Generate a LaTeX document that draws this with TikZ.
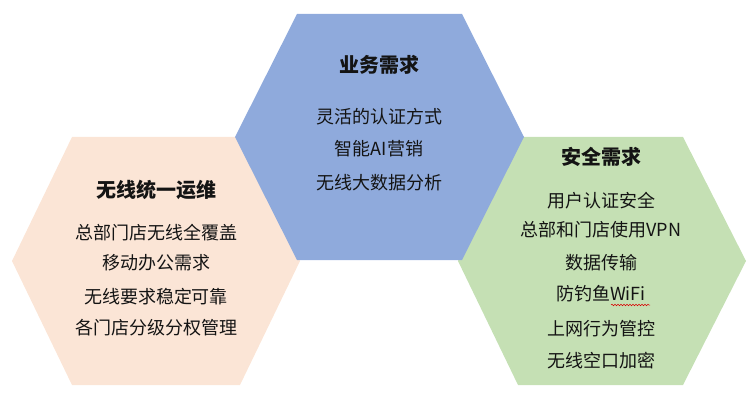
\documentclass[tikz,border=0pt]{standalone}
\usepackage{fontspec}
\setmainfont{Noto Sans CJK SC}
\usetikzlibrary{decorations.pathmorphing}
\definecolor{opspeach}{HTML}{FBE5D6}
\definecolor{secgreen}{HTML}{C5E0B4}
\definecolor{bizblue}{HTML}{8FAADC}
\definecolor{hextext}{HTML}{141414}
\tikzset{
  hexhead/.style={text=hextext,font=\fontsize{20}{23}\selectfont\bfseries},
  hexitem/.style={text=hextext,font=\fontsize{18}{21}\selectfont},
}

\begin{document}
\begin{tikzpicture}[x=1pt,y=-1pt]
\useasboundingbox (0,0) rectangle (756,404);
% Wireless operations
\fill[opspeach] (12,261) -- (72,137) -- (240,137) -- (300,261) -- (240,385) -- (72,385) -- cycle;
\node[hexhead] (opsT) at (156,190) {无线统一运维};
\node[hexitem] (ops1) at (156,233) {总部门店无线全覆盖};
\node[hexitem] (ops2) at (156,263) {移动办公需求};
\node[hexitem] (ops3) at (156,297) {无线要求稳定可靠};
\node[hexitem] (ops4) at (156,328) {各门店分级分权管理};
% Security
\fill[secgreen] (458,261) -- (518,137) -- (683,137) -- (746,261) -- (683,385) -- (518,385) -- cycle;
\node[hexhead] (secT) at (601,157) {安全需求};
\node[hexitem] (sec1) at (601,201) {用户认证安全};
\node[hexitem] (sec2) at (601,230) {总部和门店使用VPN};
\node[hexitem] (sec3) at (601,263) {数据传输};
\node[hexitem] (sec4) at (601,294) {防钓鱼WiFi};
\node[hexitem] (sec5) at (601,329) {上网行为管控};
\node[hexitem] (sec6) at (601,361) {无线空口加密};
\draw[red!85!black,line width=0.5pt,decorate,decoration={snake,amplitude=0.8pt,segment length=3pt}]
  (611,305) -- (650,305);
% Business
\fill[bizblue] (235,137) -- (297,14) -- (462,14) -- (524,137) -- (462,260) -- (297,260) -- cycle;
\node[hexhead] (bizT) at (379,65) {业务需求};
\node[hexitem] (biz1) at (379,117) {灵活的认证方式};
\node[hexitem] (biz2) at (379,149) {智能AI营销};
\node[hexitem] (biz3) at (379,183) {无线大数据分析};
\end{tikzpicture}
\end{document}
